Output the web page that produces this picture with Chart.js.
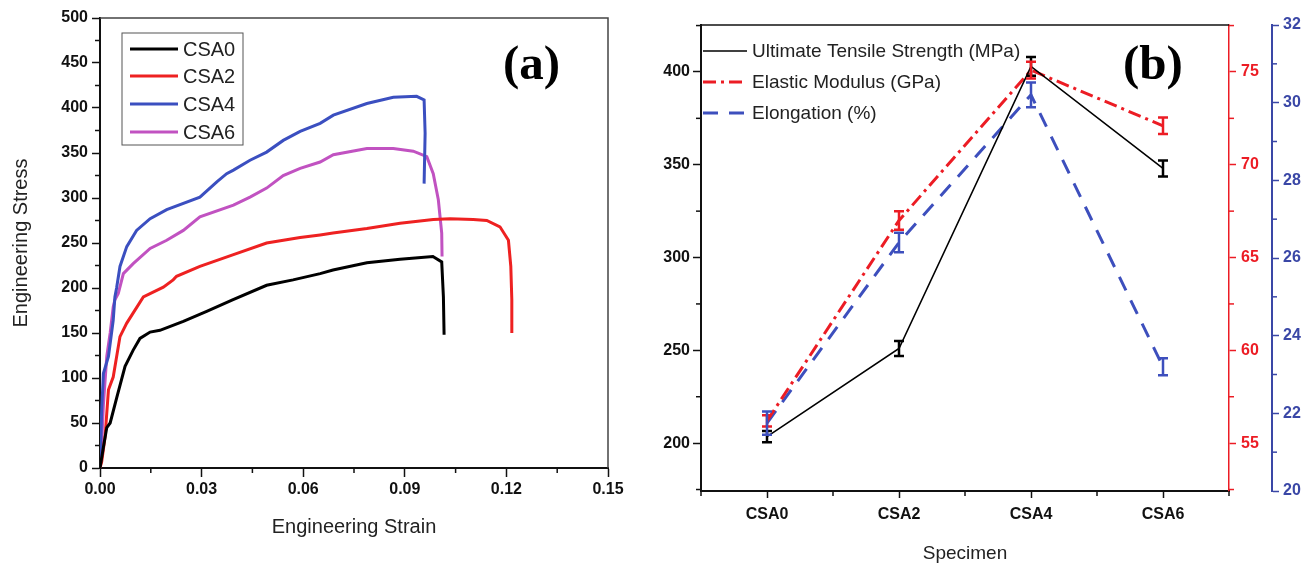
<!DOCTYPE html>
<html>
<head>
<meta charset="utf-8">
<script src="https://cdn.jsdelivr.net/npm/chart.js@4.4.1/dist/chart.umd.min.js"></script>
<style>
  html, body { margin: 0; padding: 0; background: #fff; }
  #wrap { position: relative; width: 1306px; height: 565px; overflow: hidden; }
  canvas { position: absolute; top: 0; }
  #ca { left: 0; }
  #cb { left: 645px; }
  .tag { position: absolute; top: 38px; font-family: 'Liberation Serif', 'Times New Roman', serif;
         font-weight: bold; font-size: 49px; line-height: 49px; color: #000; }
</style>
</head>
<body>
<div id="wrap">
  <canvas id="ca" width="645" height="565"></canvas>
  <canvas id="cb" width="661" height="565"></canvas>
  <div class="tag" style="left:503px">(a)</div>
  <div class="tag" style="left:1123px">(b)</div>
</div>
<script>
// ---- panel (a): engineering stress-strain curves ----
const strainCSA0 = [0, 0.001, 0.002, 0.003, 0.005, 0.0074, 0.0098, 0.0118, 0.0148, 0.0177, 0.0246, 0.0315, 0.0393, 0.0492, 0.057, 0.065, 0.0688, 0.0788, 0.0886, 0.0983, 0.1009, 0.1014, 0.1016];
const stressCSA0 = [0, 23, 45, 50, 79, 113, 131, 144, 151, 153, 163, 174, 187, 203, 209, 216, 220, 228, 232, 235, 229, 190, 148];

const strainCSA2 = [0, 0.0005, 0.0015, 0.0025, 0.0039, 0.0059, 0.0079, 0.0128, 0.0187, 0.0216, 0.0226, 0.0295, 0.0394, 0.0492, 0.0591, 0.065, 0.0688, 0.0788, 0.0886, 0.0984, 0.1034, 0.1102, 0.1142, 0.1181, 0.1206, 0.1213, 0.1216, 0.1216];
const stressCSA2 = [0, 7, 35, 87, 101, 146, 161, 190, 201, 209, 213, 224, 237, 250, 256, 259, 261, 266, 272, 276, 277, 276, 275, 268, 253, 224, 187, 150];

const strainCSA4 = [0, 0.0005, 0.001, 0.0025, 0.0039, 0.0044, 0.0049, 0.0059, 0.0079, 0.0108, 0.0148, 0.0197, 0.0295, 0.0345, 0.0374, 0.0394, 0.0443, 0.0492, 0.0541, 0.0591, 0.065, 0.0689, 0.0788, 0.0866, 0.0935, 0.0957, 0.096, 0.0957];
const stressCSA4 = [0, 64, 105, 124, 164, 190, 200, 224, 246, 264, 277, 287, 301, 318, 327, 331, 342, 351, 364, 374, 383, 392, 405, 412, 413, 409, 372, 316];

const strainCSA6 = [0, 0.0005, 0.001, 0.002, 0.003, 0.0039, 0.0044, 0.0054, 0.0069, 0.0098, 0.0148, 0.0197, 0.0246, 0.0295, 0.0394, 0.0443, 0.0492, 0.0541, 0.0591, 0.065, 0.0689, 0.0788, 0.0866, 0.0925, 0.0965, 0.0984, 0.0999, 0.1009, 0.101];
const stressCSA6 = [0, 28, 70, 124, 150, 179, 187, 194, 216, 227, 244, 253, 264, 279, 292, 301, 311, 325, 333, 340, 348, 355, 355, 352, 346, 327, 298, 261, 235];

const strainTicks = [0, 0.03, 0.06, 0.09, 0.12, 0.15];
const stressTicks = [0, 50, 100, 150, 200, 250, 300, 350, 400, 450, 500];

// ---- panel (b): properties by specimen ----
const specimens = ['CSA0', 'CSA2', 'CSA4', 'CSA6'];
const utsMPa = [203.5, 251, 403, 348];
const utsErr = [3, 4, 5, 4.3];
const modulusGPa = [56.2, 67, 75.1, 72.1];
const modulusErr = [0.3, 0.5, 0.45, 0.45];
const elongationPct = [21.75, 26.4, 30.2, 23.2];
const elongationErr = [0.3, 0.25, 0.32, 0.22];

const utsTicks = [200, 250, 300, 350, 400];
const modulusTicks = [55, 60, 65, 70, 75];
const elongationTicks = [20, 22, 24, 26, 28, 30, 32];

const SANS = "'Liberation Sans', Arial, sans-serif";
const RED = '#ec1c24';
const BLUE = '#3d4fbd';
const AXBLUE = '#3a47a6';

const pts = (xs, ys) => xs.map((x, i) => ({ x: x, y: ys[i] }));
const fixTicks = vals => s => { s.ticks = vals.map(v => ({ value: v })); };

// minor ticks, frame lines, in-plot legend, error bars
const decor = cfg => ({
  id: 'decor',
  afterDatasetsDraw(chart) {
    if (!cfg.errors) return;
    const ctx = chart.ctx;
    ctx.save();
    chart.data.datasets.forEach((ds, i) => {
      const errs = cfg.errors[i];
      const ys = chart.scales[ds.yAxisID];
      const meta = chart.getDatasetMeta(i);
      ctx.strokeStyle = ds.borderColor;
      ctx.lineWidth = 2.5;
      ctx.setLineDash([]);
      ds.data.forEach((d, j) => {
        const x = meta.data[j].x;
        const t = ys.getPixelForValue(d.y + errs[j]);
        const b = ys.getPixelForValue(d.y - errs[j]);
        ctx.beginPath();
        ctx.moveTo(x, t); ctx.lineTo(x, b);
        ctx.moveTo(x - 5, t); ctx.lineTo(x + 5, t);
        ctx.moveTo(x - 5, b); ctx.lineTo(x + 5, b);
        ctx.stroke();
      });
    });
    ctx.restore();
  },
  afterDraw(chart) {
    const ctx = chart.ctx, a = chart.chartArea;
    ctx.save();
    ctx.setLineDash([]);
    if (cfg.frame) {
      ctx.strokeStyle = cfg.frame.color;
      ctx.lineWidth = cfg.frame.width;
      ctx.beginPath();
      ctx.moveTo(a.left, a.top); ctx.lineTo(a.right, a.top);
      if (cfg.frame.right) ctx.lineTo(a.right, a.bottom);
      ctx.stroke();
    }
    cfg.minor.forEach(([id, vals, color]) => {
      const s = chart.scales[id];
      ctx.strokeStyle = color;
      ctx.lineWidth = 1.5;
      vals.forEach(v => {
        const p = s.getPixelForValue(v);
        ctx.beginPath();
        if (s.isHorizontal()) { ctx.moveTo(p, s.top); ctx.lineTo(p, s.top + 5); }
        else if (s.position === 'left') { ctx.moveTo(s.right - 5, p); ctx.lineTo(s.right, p); }
        else { ctx.moveTo(s.left, p); ctx.lineTo(s.left + 5, p); }
        ctx.stroke();
      });
    });
    const lg = cfg.legend;
    if (lg.box) {
      ctx.strokeStyle = '#555';
      ctx.lineWidth = 1;
      ctx.strokeRect(lg.box[0], lg.box[1], lg.box[2], lg.box[3]);
    }
    ctx.font = lg.font;
    ctx.textBaseline = 'middle';
    ctx.fillStyle = '#222';
    chart.data.datasets.forEach((ds, i) => {
      const y = lg.rows[i];
      ctx.strokeStyle = ds.borderColor;
      ctx.lineWidth = ds.borderWidth;
      ctx.setLineDash(ds.borderDash || []);
      ctx.beginPath();
      ctx.moveTo(lg.x0, y); ctx.lineTo(lg.x1, y);
      ctx.stroke();
      ctx.fillText(ds.label, lg.tx, y + 1);
    });
    ctx.restore();
  }
});

const curve = (label, xs, ys, color) => ({
  label: label, data: pts(xs, ys), showLine: true, borderColor: color,
  borderWidth: 3, pointRadius: 0, fill: false, tension: 0
});

new Chart(document.getElementById('ca'), {
  type: 'scatter',
  data: {
    datasets: [
      curve('CSA0', strainCSA0, stressCSA0, '#000000'),
      curve('CSA2', strainCSA2, stressCSA2, '#ee2121'),
      curve('CSA4', strainCSA4, stressCSA4, '#3b4fc0'),
      curve('CSA6', strainCSA6, stressCSA6, '#c152c1')
    ]
  },
  options: {
    responsive: false,
    animation: false,
    layout: { padding: { top: 18, right: 37, left: 0, bottom: 0 } },
    plugins: { legend: { display: false }, tooltip: { enabled: false } },
    scales: {
      x: {
        type: 'linear', min: 0, max: 0.15,
        afterBuildTicks: fixTicks(strainTicks),
        afterFit: s => { s.height = 97; },
        ticks: { callback: v => v.toFixed(2), autoSkip: false, maxRotation: 0, padding: 3,
                 color: '#111', font: { family: SANS, size: 16, weight: 'bold' } },
        grid: { drawOnChartArea: false, tickLength: 9, tickWidth: 1.5, tickColor: '#111' },
        border: { color: '#111', width: 2 },
        title: { display: true, text: 'Engineering Strain', color: '#222',
                 font: { family: SANS, size: 20 }, padding: { top: 0, bottom: 26 } }
      },
      y: {
        type: 'linear', min: 0, max: 500,
        afterBuildTicks: fixTicks(stressTicks),
        afterFit: s => { s.width = 100; },
        ticks: { autoSkip: false, padding: 4, color: '#111',
                 font: { family: SANS, size: 16, weight: 'bold' } },
        grid: { drawOnChartArea: false, tickLength: 8, tickWidth: 1.5, tickColor: '#111' },
        border: { color: '#111', width: 2 },
        title: { display: true, text: 'Engineering Stress', color: '#222',
                 font: { family: SANS, size: 20 }, padding: { top: 9, bottom: 0 } }
      }
    }
  },
  plugins: [decor({
    frame: { color: '#444', width: 1.5, right: true },
    minor: [
      ['x', [0.015, 0.045, 0.075, 0.105, 0.135], '#111'],
      ['y', [25, 75, 125, 175, 225, 275, 325, 375, 425, 475], '#111']
    ],
    legend: { box: [122, 33, 121, 112], rows: [49, 76, 104, 132], x0: 130, x1: 178, tx: 183,
              font: '20px ' + SANS }
  })]
});

new Chart(document.getElementById('cb'), {
  type: 'scatter',
  data: {
    datasets: [
      { label: 'Ultimate Tensile Strength (MPa)', data: pts([0, 1, 2, 3], utsMPa), yAxisID: 'yL',
        showLine: true, borderColor: '#000000', borderWidth: 1.6, pointRadius: 0, tension: 0 },
      { label: 'Elastic Modulus (GPa)', data: pts([0, 1, 2, 3], modulusGPa), yAxisID: 'yR',
        showLine: true, borderColor: RED, borderWidth: 3, borderDash: [13, 5, 3, 5], pointRadius: 0, tension: 0 },
      { label: 'Elongation (%)', data: pts([0, 1, 2, 3], elongationPct), yAxisID: 'yB',
        showLine: true, borderColor: BLUE, borderWidth: 3, borderDash: [15, 11], pointRadius: 0, tension: 0 }
    ]
  },
  options: {
    responsive: false,
    animation: false,
    layout: { padding: { top: 25, right: 0, left: 0, bottom: 0 } },
    plugins: { legend: { display: false }, tooltip: { enabled: false } },
    scales: {
      x: {
        type: 'linear', min: -0.5, max: 3.5,
        afterBuildTicks: fixTicks([0, 1, 2, 3]),
        afterFit: s => { s.height = 74; },
        ticks: { callback: v => specimens[v], autoSkip: false, maxRotation: 0, padding: 7,
                 color: '#111', font: { family: SANS, size: 16, weight: 'bold' } },
        grid: { drawOnChartArea: false, tickLength: 7, tickWidth: 1.5, tickColor: '#111' },
        border: { color: '#111', width: 2 },
        title: { display: true, text: 'Specimen', color: '#222',
                 font: { family: SANS, size: 19 }, padding: { top: 0, bottom: 0 } }
      },
      yL: {
        type: 'linear', axis: 'y', position: 'left', min: 174.2, max: 425.3,
        afterBuildTicks: fixTicks(utsTicks),
        afterFit: s => { s.width = 56; },
        ticks: { autoSkip: false, padding: 3, color: '#111',
                 font: { family: SANS, size: 16, weight: 'bold' } },
        grid: { drawOnChartArea: false, tickLength: 8, tickWidth: 1.5, tickColor: '#111' },
        border: { color: '#111', width: 2 }
      },
      yR: {
        type: 'linear', axis: 'y', position: 'right', min: 52.42, max: 77.53,
        afterBuildTicks: fixTicks(modulusTicks),
        afterFit: s => { s.width = 43; },
        ticks: { autoSkip: false, padding: 5, color: RED,
                 font: { family: SANS, size: 16, weight: 'bold' } },
        grid: { drawOnChartArea: false, tickLength: 7, tickWidth: 1.5, tickColor: RED },
        border: { color: RED, width: 1.5 }
      },
      yB: {
        type: 'linear', axis: 'y', position: 'right', min: 20, max: 32,
        afterBuildTicks: fixTicks(elongationTicks),
        afterFit: s => { s.width = 34; },
        ticks: { autoSkip: false, padding: 4, color: AXBLUE,
                 font: { family: SANS, size: 16, weight: 'bold' } },
        grid: { drawOnChartArea: false, tickLength: 7, tickWidth: 1.5, tickColor: AXBLUE },
        border: { color: AXBLUE, width: 2 }
      }
    }
  },
  plugins: [decor({
    frame: { color: '#111', width: 1.5, right: false },
    errors: [utsErr, modulusErr, elongationErr],
    minor: [
      ['x', [-0.5, 0.5, 1.5, 2.5, 3.5], '#111'],
      ['yL', [175, 225, 275, 325, 375, 425], '#111'],
      ['yR', [52.5, 57.5, 62.5, 67.5, 72.5, 77.5], RED],
      ['yB', [21, 23, 25, 27, 29, 31], AXBLUE]
    ],
    legend: { rows: [51, 82, 113], x0: 58, x1: 102, tx: 107, font: '19px ' + SANS }
  })]
});
</script>
</body>
</html>
